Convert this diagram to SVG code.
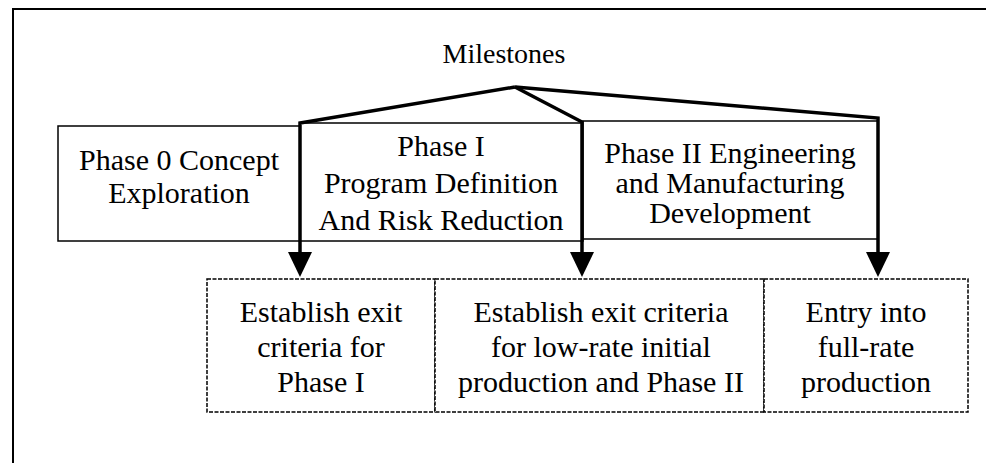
<svg xmlns="http://www.w3.org/2000/svg" width="986" height="463" viewBox="0 0 986 463">
<style>
  .t { font-family: 'Liberation Serif', 'Times New Roman', Times, 'DejaVu Serif', serif; font-size: 30px; fill: #000; text-anchor: middle; }
  .frame { fill: none; stroke: #000; stroke-width: 2; }
  .phase { fill: #fff; stroke: #000; stroke-width: 1.5; }
  .goal { fill: #fff; stroke: #000; stroke-width: 1.5; stroke-dasharray: 4 1.5; }
  .conn { fill: none; stroke: #000; stroke-width: 3.5; stroke-linejoin: miter; }
</style>
<defs>
  <marker id="arrow" markerUnits="userSpaceOnUse" viewBox="0 0 25 24" markerWidth="25" markerHeight="24" refX="13" refY="12" orient="auto">
    <path d="M0,0 L25,12 L0,24 Z" fill="#000"/>
  </marker>
</defs>
<rect width="986" height="463" fill="#fff"/>
<rect class="frame" x="13" y="9" width="1000" height="500"/>

<g id="milestones" font-family="Liberation Serif, serif">
  <text class="t" x="504" y="63" font-size="28" style="font-size:28px">Milestones</text>
</g>

<g id="phase0" font-family="Liberation Serif, serif">
  <rect class="phase" x="58" y="126" width="242" height="115"/>
  <text class="t" x="179" y="170">Phase 0 Concept</text>
  <text class="t" x="179" y="203">Exploration</text>
</g>

<g id="phase1" font-family="Liberation Serif, serif">
  <rect class="phase" x="300" y="123" width="283" height="118"/>
  <text class="t" x="441" y="156">Phase I</text>
  <text class="t" x="441" y="193">Program Definition</text>
  <text class="t" x="441" y="230">And Risk Reduction</text>
</g>

<g id="phase2" font-family="Liberation Serif, serif">
  <rect class="phase" x="583" y="121" width="295" height="118"/>
  <text class="t" x="730" y="163">Phase II Engineering</text>
  <text class="t" x="730" y="193">and Manufacturing</text>
  <text class="t" x="730" y="223">Development</text>
</g>

<g id="goal1" font-family="Liberation Serif, serif">
  <rect class="goal" x="207" y="279" width="228" height="133"/>
  <text class="t" x="321" y="322">Establish exit</text>
  <text class="t" x="321" y="357">criteria for</text>
  <text class="t" x="321" y="392">Phase I</text>
</g>

<g id="goal2" font-family="Liberation Serif, serif">
  <rect class="goal" x="435" y="279" width="329" height="133"/>
  <text class="t" x="601" y="322">Establish exit criteria</text>
  <text class="t" x="601" y="357">for low-rate initial</text>
  <text class="t" x="601" y="392">production and Phase II</text>
</g>

<g id="goal3" font-family="Liberation Serif, serif">
  <rect class="goal" x="764" y="279" width="204" height="133"/>
  <text class="t" x="866" y="322">Entry into</text>
  <text class="t" x="866" y="357">full-rate</text>
  <text class="t" x="866" y="392">production</text>
</g>

<g id="connectors">
  <polyline class="conn" points="515,87 300,123 300,265" marker-end="url(#arrow)"/>
  <polyline class="conn" points="515,87 582,122 582,265" marker-end="url(#arrow)"/>
  <polyline class="conn" points="515,87 878,118 878,265" marker-end="url(#arrow)"/>
</g>
</svg>
